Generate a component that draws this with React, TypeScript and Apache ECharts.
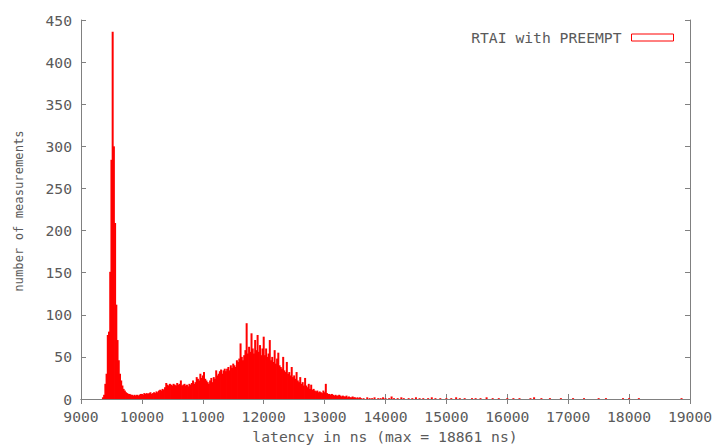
import React, { useEffect, useRef } from "react";
import * as echarts from "echarts";

// Histogram of latencies: 20 ns bins starting at 9360 ns
const BIN_START = 9360;
const BIN_WIDTH = 20;
const counts = [
  2, 5, 18, 30, 76, 80, 151, 284, 436, 300, 209, 112, 70, 46, 30, 22, 16, 12, 10, 8,
  7, 6, 6, 5, 5, 4, 5, 4, 5, 4, 5, 6, 6, 5, 7, 6, 7, 6, 7, 8,
  6, 7, 8, 7, 9, 8, 10, 11, 10, 12, 11, 14, 19, 17, 16, 18, 17, 16, 18, 17,
  16, 19, 17, 18, 22, 16, 17, 18, 16, 17, 15, 18, 17, 19, 22, 18, 20, 26, 24, 22,
  30, 25, 28, 32, 24, 22, 20, 18, 22, 25, 20, 26, 24, 34, 28, 30, 33, 35, 30, 34,
  36, 33, 36, 38, 34, 40, 37, 42, 40, 38, 46, 44, 48, 66, 50, 46, 52, 58, 90, 54,
  62, 56, 78, 60, 54, 70, 58, 76, 56, 64, 52, 60, 74, 52, 60, 50, 54, 70, 46, 50,
  44, 58, 42, 48, 55, 40, 38, 36, 50, 34, 32, 44, 30, 32, 28, 38, 26, 28, 24, 32,
  22, 20, 26, 18, 20, 16, 25, 16, 14, 18, 12, 17, 11, 12, 10, 9, 10, 8, 9, 8,
  7, 10, 8, 18, 7, 6, 6, 5, 6, 5, 4, 5, 4, 4, 5, 4, 3, 4, 3, 3,
  4, 2, 3, 2, 2, 3, 2, 2, 1, 2, 1, 2, 1,
];
// sparse tail of the distribution
const tailLatency = [
  13640, 13700, 13740, 13780, 13820, 13880, 13920, 13960, 14000, 14060, 14100, 14140,
  14200, 14260, 14300, 14380, 14440, 14500, 14560, 14620, 14700, 14760, 14820, 14900,
  15000, 15080, 15160, 15220, 15300, 15420, 15480, 15560, 15660, 15760, 15860, 16000,
  16100, 16200, 16380, 16440, 16560, 16700, 16880, 17080, 17260, 17500, 17620, 17900,
  18000, 18160, 18861,
];
const tailCounts = [
  1, 2, 1, 1, 2, 1, 1, 2, 1, 1, 3, 1,
  1, 2, 1, 1, 1, 2, 1, 1, 1, 2, 1, 1,
  1, 1, 2, 1, 1, 1, 1, 1, 2, 1, 1, 1,
  1, 1, 1, 2, 1, 1, 1, 1, 1, 1, 1, 1,
  1, 1, 1,
];
const X_MIN = 9000;
const X_MAX = 19000;
const X_STEP = 1000;
const Y_MIN = 0;
const Y_MAX = 450;
const Y_STEP = 50;
const seriesName = "RTAI with PREEMPT";
const xTitle = "latency in ns (max = 18861 ns)";
const yTitle = "number of measurements";

const FONT = "DejaVu Sans Mono";
const TEXT = "#5a5a5a";
const FRAME = "#808080";

export default function App() {
  const ref = useRef<HTMLDivElement>(null);
  useEffect(() => {
    if (!ref.current) return;
    const chart = echarts.init(ref.current, undefined, { renderer: "svg" });
    const data: [number, number][] = [];
    counts.forEach((c, i) => data.push([BIN_START + i * BIN_WIDTH, c]));
    tailLatency.forEach((x, i) => data.push([x, tailCounts[i]]));

    const tickStyle = { show: true, inside: true, length: 5, lineStyle: { color: FRAME } };
    const lineStyle = { show: true, lineStyle: { color: FRAME, width: 1 } };

    chart.setOption({
      animation: false,
      backgroundColor: "#ffffff",
      grid: { left: 81, right: 29, top: 20, bottom: 46 },
      legend: {
        data: [{ name: seriesName, icon: "rect" }],
        right: 40,
        top: 25,
        align: "right",
        itemWidth: 42,
        itemHeight: 7,
        itemGap: 10,
        textStyle: { fontFamily: FONT, fontSize: 14.7, color: TEXT, padding: [0, 5, 0, 0] },
        itemStyle: { color: "rgba(0,0,0,0)", borderColor: "#ff0000", borderWidth: 1 },
      },
      xAxis: [
        {
          type: "value",
          position: "bottom",
          min: X_MIN,
          max: X_MAX,
          interval: X_STEP,
          axisLine: lineStyle,
          axisTick: tickStyle,
          splitLine: { show: false },
          axisLabel: {
            fontFamily: FONT,
            fontSize: 14.7,
            lineHeight: 10,
            color: TEXT,
            margin: 12,
            formatter: (v: number) => String(v),
          },
        },
        {
          type: "value",
          position: "top",
          min: X_MIN,
          max: X_MAX,
          interval: X_STEP,
          axisLine: lineStyle,
          axisTick: tickStyle,
          splitLine: { show: false },
          axisLabel: { show: false },
        },
      ],
      yAxis: [
        {
          type: "value",
          position: "left",
          min: Y_MIN,
          max: Y_MAX,
          interval: Y_STEP,
          axisLine: lineStyle,
          axisTick: tickStyle,
          splitLine: { show: false },
          axisLabel: {
            fontFamily: FONT,
            fontSize: 14.7,
            lineHeight: 10,
            color: TEXT,
            margin: 9,
            formatter: (v: number) => String(v),
          },
        },
        {
          type: "value",
          position: "right",
          min: Y_MIN,
          max: Y_MAX,
          interval: Y_STEP,
          axisLine: lineStyle,
          axisTick: tickStyle,
          splitLine: { show: false },
          axisLabel: { show: false },
        },
      ],
      series: [
        {
          name: seriesName,
          type: "bar",
          xAxisIndex: 0,
          yAxisIndex: 0,
          barWidth: 2,
          itemStyle: { color: "#ff0000" },
          data,
        },
      ],
      graphic: [
        {
          type: "text",
          x: 385,
          y: 436,
          style: {
            text: xTitle,
            fontFamily: FONT,
            fontSize: 14.7,
            fill: TEXT,
            textAlign: "center",
            textVerticalAlign: "middle",
          },
        },
        {
          type: "text",
          x: 19,
          y: 211,
          rotation: Math.PI / 2,
          style: {
            text: yTitle,
            fontFamily: FONT,
            fontSize: 12.2,
            fill: TEXT,
            textAlign: "center",
            textVerticalAlign: "middle",
          },
        },
      ],
    });
    return () => chart.dispose();
  }, []);
  return <div ref={ref} style={{ width: 719, height: 445, position: "absolute", left: 0, top: 0 }} />;
}
